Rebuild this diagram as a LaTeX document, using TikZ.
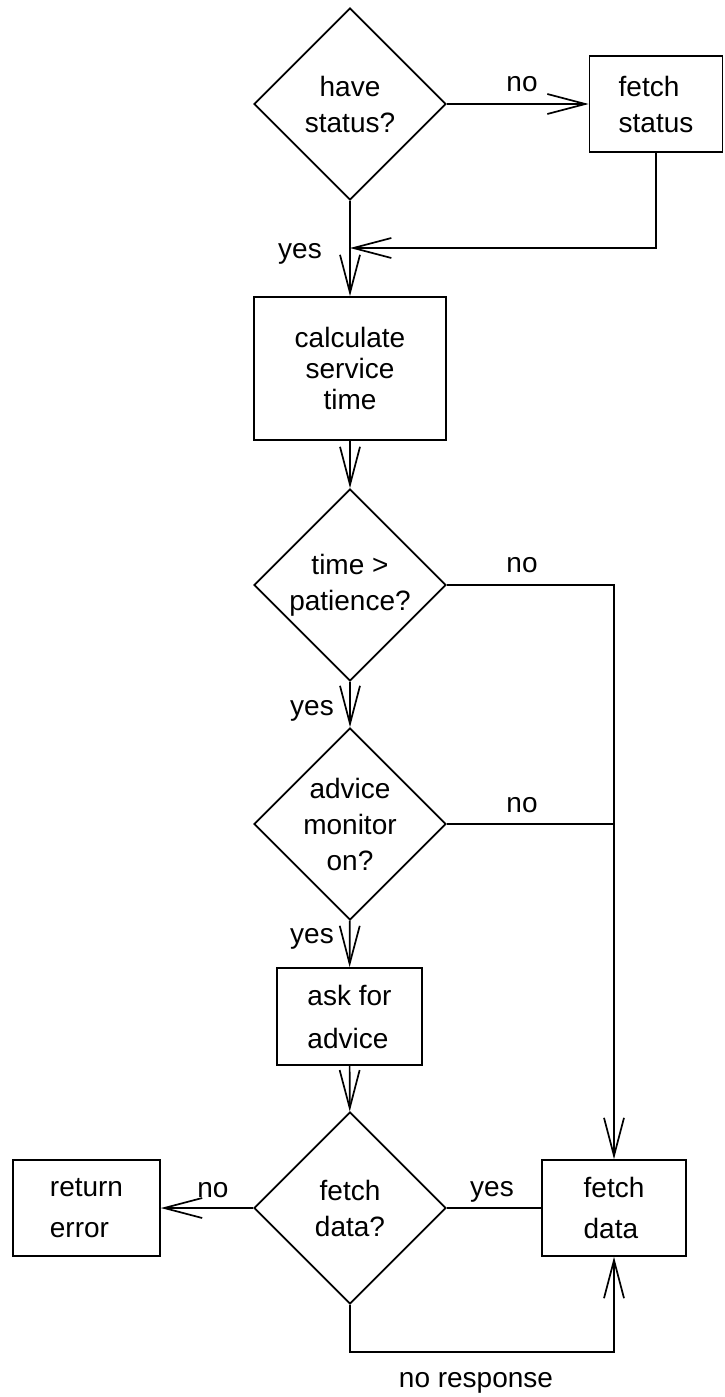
\documentclass[tikz,border=0pt]{standalone}
\usepackage{fontspec}
\setmainfont{Liberation Sans}
\usetikzlibrary{shapes.geometric,arrows.meta}

\begin{document}
\begin{tikzpicture}[x=1pt,y=-1pt,line width=1.7pt,
    arr/.style={-{Straight Barb[length=38pt,width=20pt]}},
    lbl/.style={anchor=base,inner sep=0pt,font=\fontsize{28}{34}\selectfont}]

      \useasboundingbox (0,0) rectangle (725,1397);

      % decisions
      \begin{scope}[every node/.style={diamond,draw,aspect=1,inner sep=0pt,
          minimum width=192pt,minimum height=192pt,align=center,
          font=\fontsize{28}{36}\selectfont}]
        \node (1) at (350,104)  {have\\status?};
        \node (4) at (350,585)  {time >\\patience?};
        \node (5) at (350,824)  {advice\\monitor\\on?};
        \node (7) at (350,1208) {fetch\\data?};
      \end{scope}

      % actions
      \begin{scope}[every node/.style={rectangle,draw,inner sep=0pt,align=left,
          font=\fontsize{28}{36}\selectfont}]
        \node[minimum width=133pt,minimum height=96pt] (2) at (656,104) {fetch\\status};
        \node[minimum width=192pt,minimum height=143pt,align=center,
              font=\fontsize{28}{31}\selectfont] (3) at (350,368.5) {calculate\\service\\ time};
        \node[minimum width=145pt,minimum height=97pt,
              font=\fontsize{28}{43}\selectfont] (6) at (349.5,1016.5) {ask for\\advice};
        \node[minimum width=144pt,minimum height=96pt,
              font=\fontsize{28}{41}\selectfont] (8) at (614,1208) {fetch\\data};
        \node[minimum width=147pt,minimum height=96pt,
              font=\fontsize{28}{41}\selectfont] (9) at (86.5,1208) {return\\error};
      \end{scope}

      \coordinate (m) at (350,248);
      \coordinate (b) at (350,1352);

      \draw[arr] (1) -- (2);
      \draw[arr] (2.south) |- (m);
      \draw[arr] (1) -- (3);
      \draw[arr] (3) -- (4);
      \draw[arr] (4) -- (5);
      \draw[arr] (5) -- (6);
      \draw[arr] (6) -- (7);
      \draw[arr] (4) -| (8);
      \draw (5) -- (5 -| 8);
      \draw[arr] (7) -- (9);
      \draw (7) -- (8);
      \draw[arr] (7.south) -- (b) -| (8.south);

      \node[lbl] (n1) at (522,92)   {no};
      \node[lbl] (y1) at (300,258)  {yes};
      \node[lbl] (n2) at (522,572)  {no};
      \node[lbl] (y2) at (312,715)  {yes};
      \node[lbl] (n3) at (522,812)  {no};
      \node[lbl] (y3) at (312,943)  {yes};
      \node[lbl] (n4) at (213,1197) {no};
      \node[lbl] (y4) at (492,1196) {yes};
      \node[lbl] (nr) at (476,1387) {no response};

    \end{tikzpicture}
\end{document}
